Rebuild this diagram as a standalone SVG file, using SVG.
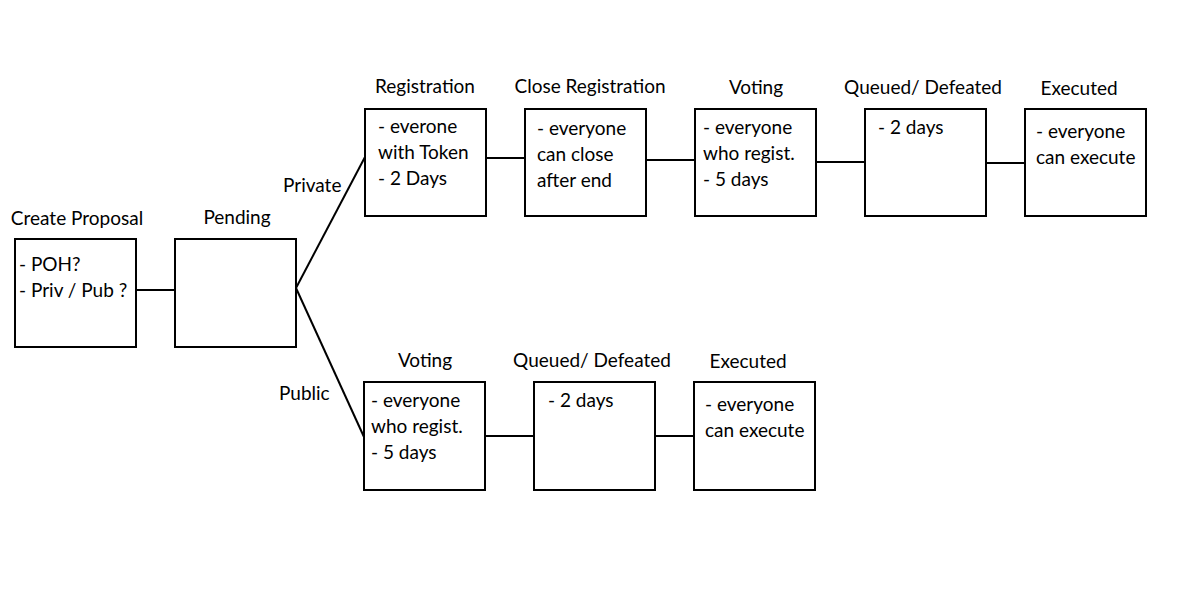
<svg xmlns="http://www.w3.org/2000/svg" width="1200" height="600" viewBox="0 0 1200 600">
<style>
text{font-family:Lato,"Open Sans","Liberation Sans",sans-serif;font-size:19px;fill:#000}
.t{text-anchor:middle}
.n rect{fill:#fff;stroke:#000;stroke-width:2}
.c line{stroke:#000;stroke-width:2}
</style>
<rect x="0" y="0" width="1200" height="600" fill="#fff"/>
<g class="c" id="connectors">
<line x1="136" y1="290" x2="175" y2="290"/>
<line x1="296" y1="288" x2="365" y2="157"/>
<line x1="296" y1="288" x2="364" y2="437"/>
<line x1="486" y1="158" x2="525" y2="158"/>
<line x1="646" y1="160" x2="695" y2="160"/>
<line x1="816" y1="162" x2="865" y2="162"/>
<line x1="986" y1="163" x2="1025" y2="163"/>
<line x1="485" y1="436" x2="534" y2="436"/>
<line x1="655" y1="436" x2="694" y2="436"/>
<text x="283" y="192">Private</text>
<text x="279" y="400">Public</text>
</g>
<g class="n" id="create">
<text class="t" x="77" y="225">Create Proposal</text>
<rect x="15" y="239" width="121" height="108"/>
<text x="19" y="271">- POH?</text>
<text x="19" y="297">- Priv / Pub ?</text>
</g>
<g class="n" id="pending">
<text class="t" x="237" y="224">Pending</text>
<rect x="175" y="239" width="121" height="108"/>
</g>
<g class="n" id="registration">
<text class="t" x="425" y="93">Registration</text>
<rect x="365" y="109" width="121" height="107"/>
<text x="378" y="133">- everone</text>
<text x="378" y="159">with Token</text>
<text x="378" y="185">- 2 Days</text>
</g>
<g class="n" id="close">
<text class="t" x="590" y="93">Close Registration</text>
<rect x="525" y="109" width="121" height="107"/>
<text x="537" y="135">- everyone</text>
<text x="537" y="161">can close</text>
<text x="537" y="187">after end</text>
</g>
<g class="n" id="voting-priv">
<text class="t" x="756" y="94">Voting</text>
<rect x="695" y="109" width="121" height="107"/>
<text x="703" y="134">- everyone</text>
<text x="703" y="160">who regist.</text>
<text x="703" y="186">- 5 days</text>
</g>
<g class="n" id="queued-priv">
<text class="t" x="923" y="94">Queued/ Defeated</text>
<rect x="865" y="109" width="121" height="107"/>
<text x="878" y="134">- 2 days</text>
</g>
<g class="n" id="executed-priv">
<text class="t" x="1079" y="95">Executed</text>
<rect x="1025" y="109" width="121" height="107"/>
<text x="1036" y="138">- everyone</text>
<text x="1036" y="164">can execute</text>
</g>
<g class="n" id="voting-pub">
<text class="t" x="425" y="367">Voting</text>
<rect x="364" y="382" width="121" height="108"/>
<text x="371" y="407">- everyone</text>
<text x="371" y="433">who regist.</text>
<text x="371" y="459">- 5 days</text>
</g>
<g class="n" id="queued-pub">
<text class="t" x="592" y="367">Queued/ Defeated</text>
<rect x="534" y="382" width="121" height="108"/>
<text x="548" y="407">- 2 days</text>
</g>
<g class="n" id="executed-pub">
<text class="t" x="748" y="368">Executed</text>
<rect x="694" y="382" width="121" height="108"/>
<text x="705" y="411">- everyone</text>
<text x="705" y="437">can execute</text>
</g>
</svg>
